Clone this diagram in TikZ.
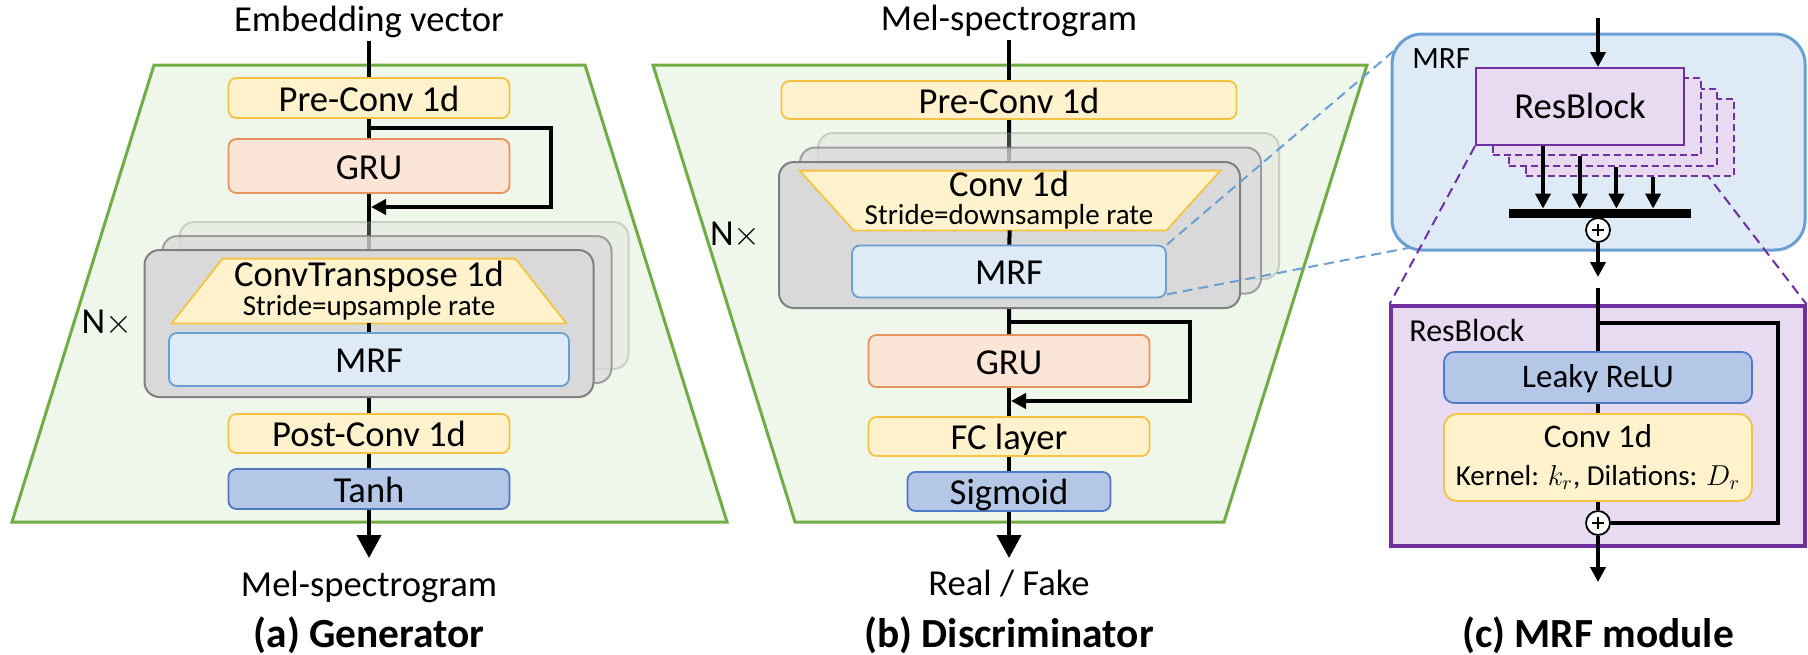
\documentclass[tikz,border=0pt]{standalone}
\usepackage{fontspec}
\setmainfont{Carlito}
\usetikzlibrary{arrows.meta,calc,positioning}
\definecolor{trapfill}{HTML}{EFF6EA}
\definecolor{trapline}{HTML}{70AD47}
\definecolor{yelfill}{HTML}{FFF2CC}
\definecolor{yelline}{HTML}{F5C342}
\definecolor{grufill}{HTML}{FBE5D6}
\definecolor{gruline}{HTML}{E8935A}
\definecolor{mrffill}{HTML}{DEEBF7}
\definecolor{mrfline}{HTML}{6A9FD4}
\definecolor{actfill}{HTML}{B4C7E7}
\definecolor{actline}{HTML}{5079C4}
\definecolor{resfill}{HTML}{E7DAF1}
\definecolor{resline}{HTML}{7030A0}
\definecolor{stackfill}{HTML}{D9D9D9}
\definecolor{stackline}{HTML}{7F7F7F}
\pgfdeclarelayer{back}
\pgfdeclarelayer{wires}
\pgfsetlayers{back,wires,main}
\newcommand{\boxfont}{\fontsize{18.3}{21}\selectfont}
\newcommand{\modfont}{\fontsize{16.5}{19}\selectfont}
\newcommand{\subfont}{\fontsize{14.5}{17}\selectfont}
\newcommand{\capfont}{\fontsize{20.7}{24}\selectfont\bfseries}
% grey copies behind a stage: #1 name, #2 centre, #3 width, #4 height, #5 list dx/dy/opacity
\newcommand{\stackcopies}[5]
{\foreach \k/\dx/\dy/\op in {#5}
	{\node[stackblk, opacity=\op, minimum width=#3, minimum height=#4] (#1\k) at ($#2+(\dx,\dy)$) {};
	};
}
\tikzset{
  blk/.style={draw, rounded corners=4pt, inner sep=0pt, line width=0.9pt, font=\boxfont, text height=13.5pt, text depth=0.5pt},
  yelblk/.style={blk, fill=yelfill, draw=yelline},
  grublk/.style={blk, fill=grufill, draw=gruline},
  mrfblk/.style={blk, fill=mrffill, draw=mrfline},
  actblk/.style={blk, fill=actfill, draw=actline},
  stackblk/.style={draw=stackline, fill=stackfill, rounded corners=7.5pt, line width=1pt, inner sep=0pt},
  trapblk/.style={inner sep=0pt},
  trapdraw/.style={fill=yelfill, draw=yelline, line width=0.9pt},
  lbl/.style={inner sep=1.5pt, font=\boxfont},
  txt/.style={inner sep=0pt, anchor=base},
  caption/.style={inner sep=0pt, font=\capfont, anchor=base},
  wire/.style={line width=2pt},
  bigarr/.style={wire, -{Triangle[length=11.5pt,width=12pt]}},
  smallarr/.style={wire, -{Triangle[length=7.5pt,width=7.5pt]}},
  zoomline/.style={line width=1pt, dash pattern=on 5pt off 3pt},
  resblk/.style={draw=resline, fill=resfill, line width=1pt, inner sep=0pt},
  sumnode/.style={circle, draw, fill=white, line width=0.9pt, minimum size=12pt, inner sep=0pt,
    path picture={\draw[line width=1.1pt]
      ([xshift=-3.2pt]path picture bounding box.center) -- ([xshift=3.2pt]path picture bounding box.center)
      ([yshift=-3.2pt]path picture bounding box.center) -- ([yshift=3.2pt]path picture bounding box.center);}},
}
\begin{document}
\begin{tikzpicture}[x=0.5pt,y=-0.5pt]
	\useasboundingbox (0,0) rectangle (1808,654);
	% backgrounds
	\begin{pgfonlayer}{back}
		\draw[trapline, fill=trapfill, line width=1.5pt] (154,65) -- (585,65) -- (727,522) -- (12,522) -- cycle;
		\draw[trapline, fill=trapfill, line width=1.5pt] (653,65) -- (1367,65) -- (1224,522) -- (795,522) -- cycle;
		\node[draw=mrfline, fill=mrffill, line width=1.5pt, rounded corners=15pt, minimum width=206.5pt, minimum height=108pt] (mrfbox) at (1598.5,142) {};
	\end{pgfonlayer}

	%% (a) generator
	\node[lbl] (gintxt) at (369,22) {Embedding vector};
	\node[yelblk, minimum width=140.5pt, minimum height=20pt] (gpre) at (369,98) {Pre-Conv 1d};
	\node[grublk, minimum width=140.5pt, minimum height=27pt] (ggru) at (369,166) {GRU};
	\stackcopies{gstack}{(369,323.5)}{224.5pt}{73.5pt}{2/35/-28/0.3,1/18/-14/0.7}
	\node[stackblk, minimum width=224.5pt, minimum height=73.5pt] (gfront) at (369,323.5) {};
	\node[lbl, inner sep=0pt, left=5.5pt of gfront] (gn) {N$\times$};
	\node[trapblk, minimum width=197pt, minimum height=32pt] (gct) at (369,291) {};
	\draw[trapdraw] (gct.south west) -- (gct.south east) -- ([xshift=-25.5pt]gct.north east) -- ([xshift=25.5pt]gct.north west) -- cycle;
	\node[txt, font=\boxfont] (gcttxt) at (369,286) {ConvTranspose 1d};
	\node[txt, font=\subfont] (gctsub) at (369,315) {Stride=upsample rate};
	\node[mrfblk, minimum width=200pt, minimum height=26.5pt] (gmrf) at (369,359.5) {MRF};
	\node[yelblk, minimum width=140.5pt, minimum height=19.5pt] (gpost) at (369,433.5) {Post-Conv 1d};
	\node[actblk, minimum width=140.5pt, minimum height=20pt] (gtanh) at (369,489) {Tanh};
	\node[txt, font=\boxfont] (gouttxt) at (369,596) {Mel-spectrogram};
	\node[caption] (gcap) at (369,647) {(a) Generator};
	\coordinate (gout) at (369,558);
	\coordinate (gsa) at (369,128);
	\coordinate (gsb) at (371,207);
	\begin{pgfonlayer}{wires}
		\draw[wire] (gintxt) -- (gpre);
		\draw[wire] (gpre) -- (ggru);
		\draw[wire] (ggru) -- (gfront);
	\end{pgfonlayer}
	\draw[smallarr] (gsa) -- ++(182,0) |- (gsb);
	\draw[wire] (gct) -- (gmrf);
	\draw[wire] (gfront) -- (gpost);
	\draw[wire] (gpost) -- (gtanh);
	\draw[bigarr] (gtanh) -- (gout);

	%% (b) discriminator
	\node[lbl] (dintxt) at (1009,21) {Mel-spectrogram};
	\node[yelblk, minimum width=227.5pt, minimum height=19pt] (dpre) at (1009,100) {Pre-Conv 1d};
	\stackcopies{dstack}{(1009.5,235)}{230.5pt}{73pt}{2/39/-29/0.3,1/21/-14.5/0.7}
	\node[stackblk, minimum width=230.5pt, minimum height=73pt] (dfront) at (1009.5,235) {};
	\node[lbl, inner sep=0pt, left=8.5pt of dfront] (dn) {N$\times$};
	\node[trapblk, minimum width=210pt, minimum height=29.5pt] (dct) at (1010,200.5) {};
	\draw[trapdraw] (dct.north west) -- (dct.north east) -- ([xshift=-27pt]dct.south east) -- ([xshift=27pt]dct.south west) -- cycle;
	\node[txt, font=\boxfont] (dcttxt) at (1009,196) {Conv 1d};
	\node[txt, font=\subfont] (dctsub) at (1009,224) {Stride=downsample rate};
	\node[mrfblk, minimum width=157pt, minimum height=26pt] (dmrf) at (1009,271.5) {MRF};
	\node[grublk, minimum width=140.5pt, minimum height=26pt] (dgru) at (1009,361) {GRU};
	\node[yelblk, minimum width=140.5pt, minimum height=19.5pt] (dfc) at (1009,436.5) {FC layer};
	\node[actblk, minimum width=101.5pt, minimum height=19.5pt] (dsig) at (1009,491.5) {Sigmoid};
	\node[txt, font=\boxfont] (douttxt) at (1009,595) {Real / Fake};
	\node[caption] (dcap) at (1009,647) {(b) Discriminator};
	\coordinate (dout) at (1009,558);
	\coordinate (dsa) at (1009,322);
	\coordinate (dsb) at (1011,401);
	\begin{pgfonlayer}{wires}
		\draw[wire] (dintxt) -- (dpre);
		\draw[wire] (dpre) -- (dfront);
	\end{pgfonlayer}
	\draw[wire] (dct) -- (dmrf);
	\draw[wire] (dfront) -- (dgru);
	\draw[smallarr] (dsa) -- ++(181,0) |- (dsb);
	\draw[wire] (dgru) -- (dfc);
	\draw[wire] (dfc) -- (dsig);
	\draw[bigarr] (dsig) -- (dout);

	%% (c) MRF module
	\node[txt, anchor=base west, font=\fontsize{15.5}{18}\selectfont] (mrflbl) at (1412,68) {MRF};
	\foreach \k in {3,2,1}
		{\node[resblk, dash pattern=on 3.5pt off 2pt, minimum width=104pt, minimum height=38.5pt] (rbc\k) at ($(1580,106.5)+({16.7*\k},{10.3*\k})$) {};
		};
	\node[resblk, font=\boxfont, text height=12.5pt, text depth=1pt, minimum width=104pt, minimum height=38.5pt] (rb) at (1580,106.5) {ResBlock};
	\node[fill, inner sep=0pt, minimum width=91pt, minimum height=4.5pt] (bar) at (1600,213.5) {};
	\foreach \k/\src in {0/rb,1/rbc1,2/rbc2,3/rbc3}
		{\coordinate (rbo\k) at ($(\src.south west)+({68+20*\k},0)$);
		\draw[smallarr] (rbo\k) -- (rbo\k |- bar.north);
		};
	\node[sumnode] (s1) at (1598,230) {};
	\node[resblk, line width=1.6pt, minimum width=207pt, minimum height=120pt] (bigrb) at (1598,426) {};
	\node[txt, anchor=base west, font=\fontsize{16}{19}\selectfont] (reslbl) at (1409,341) {ResBlock};
	\node[actblk, font=\modfont, text height=11pt, text depth=1pt, rounded corners=5pt, minimum width=154pt, minimum height=25.5pt] (leaky) at (1598,377.5) {Leaky ReLU};
	\node[yelblk, rounded corners=6.5pt, minimum width=154pt, minimum height=43.5pt] (mconv) at (1598,457.5) {};
	\node[txt, font=\modfont] (mconvtxt) at (1598,447) {Conv 1d};
	\node[txt, font=\subfont] (mconvsub) at (1598,485) {Kernel: $k_r$, Dilations: $D_r$};
	\node[sumnode] (s2) at (1598,523) {};
	\coordinate (min) at (1598,18);
	\coordinate (m1out) at (1598,277);
	\coordinate (m2in) at (1598,288);
	\coordinate (mbr) at (1598,323);
	\coordinate (mout) at (1598,582);
	\coordinate (mrftl) at ($(mrfbox.north west)+(6,16)$);
	\coordinate (mrfbl) at ($(mrfbox.south west)+(20,-4)$);
	\node[caption] (mcap) at (1598,647) {(c) MRF module};
	\draw[smallarr] (min) -- (min |- rb.north);
	\draw[smallarr] (s1) -- (m1out);
	\draw[wire] (m2in) -- (leaky);
	\draw[wire] (mbr) -- ++(180,0) |- (s2);
	\draw[wire] (leaky) -- (mconv);
	\draw[wire] (mconv) -- (s2);
	\draw[smallarr] (s2) -- (mout);
	% zoom-in guides
	\begin{pgfonlayer}{wires}
		\draw[zoomline, resline] (rb.south west) -- (bigrb.north west);
		\draw[zoomline, resline] (rb.south east) -- (bigrb.north east);
	\end{pgfonlayer}
	\draw[zoomline, mrfline] (dmrf.north east) -- (mrftl);
	\draw[zoomline, mrfline] ([yshift=2pt]dmrf.south east) -- (mrfbl);
\end{tikzpicture}
\end{document}
